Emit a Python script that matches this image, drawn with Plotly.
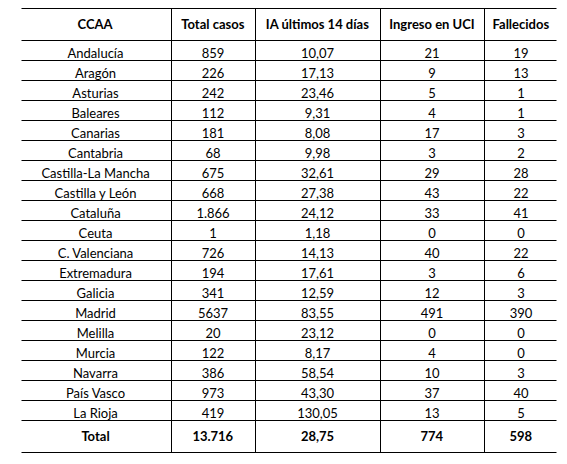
import plotly.graph_objects as go

headers = ["CCAA", "Total casos", "IA últimos 14 días", "Ingreso en UCI", "Fallecidos"]
ccaa = ["Andalucía", "Aragón", "Asturias", "Baleares", "Canarias", "Cantabria",
        "Castilla-La Mancha", "Castilla y León", "Cataluña", "Ceuta", "C. Valenciana",
        "Extremadura", "Galicia", "Madrid", "Melilla", "Murcia", "Navarra",
        "País Vasco", "La Rioja"]
total_casos = ["859", "226", "242", "112", "181", "68", "675", "668", "1.866", "1",
               "726", "194", "341", "5637", "20", "122", "386", "973", "419"]
ia_14 = ["10,07", "17,13", "23,46", "9,31", "8,08", "9,98", "32,61", "27,38", "24,12",
         "1,18", "14,13", "17,61", "12,59", "83,55", "23,12", "8,17", "58,54", "43,30",
         "130,05"]
uci = ["21", "9", "5", "4", "17", "3", "29", "43", "33", "0", "40", "3", "12", "491",
       "0", "4", "10", "37", "13"]
fallecidos = ["19", "13", "1", "1", "3", "2", "28", "22", "41", "0", "22", "6", "3",
              "390", "0", "0", "3", "40", "5"]
totals = ["Total", "13.716", "28,75", "774", "598"]


def nb(s):
    return s.replace(" ", "\u00a0")


columns = [ccaa, total_casos, ia_14, uci, fallecidos]
cell_values = [[nb(v) for v in col] + ["<b>" + nb(t) + "</b>"]
               for col, t in zip(columns, totals)]

W, H = 567, 464
ML, MR, MT, MB = 12, 17, 0, 0
HEADER_H = 25
CELL_H = 20

FONT = "Lato, Calibri, sans-serif"

fig = go.Figure(go.Table(
    columnwidth=[151, 84, 125, 104, 74],
    header=dict(
        values=["<b>" + nb(h) + "</b>" for h in headers],
        align="center",
        height=HEADER_H,
        font=dict(family=FONT, size=13, color="black"),
        fill_color="white",
        line=dict(color="black", width=1),
    ),
    cells=dict(
        values=cell_values,
        align="center",
        height=CELL_H,
        font=dict(family=FONT, size=13, color="black"),
        fill_color="white",
        line=dict(color="black", width=1),
    ),
    domain=dict(x=[0, 1], y=[0, 1]),
))

fig.update_layout(
    width=W, height=H,
    margin=dict(l=ML, r=MR, t=MT, b=MB, pad=0),
    paper_bgcolor="white",
    shapes=[
        dict(type="line", xref="paper", yref="paper", x0=0, x1=0, y0=0, y1=1,
             line=dict(color="white", width=3), layer="above"),
        dict(type="line", xref="paper", yref="paper", x0=1, x1=1, y0=0, y1=1,
             line=dict(color="white", width=3), layer="above"),
    ],
)

fig.write_html("out.html")
